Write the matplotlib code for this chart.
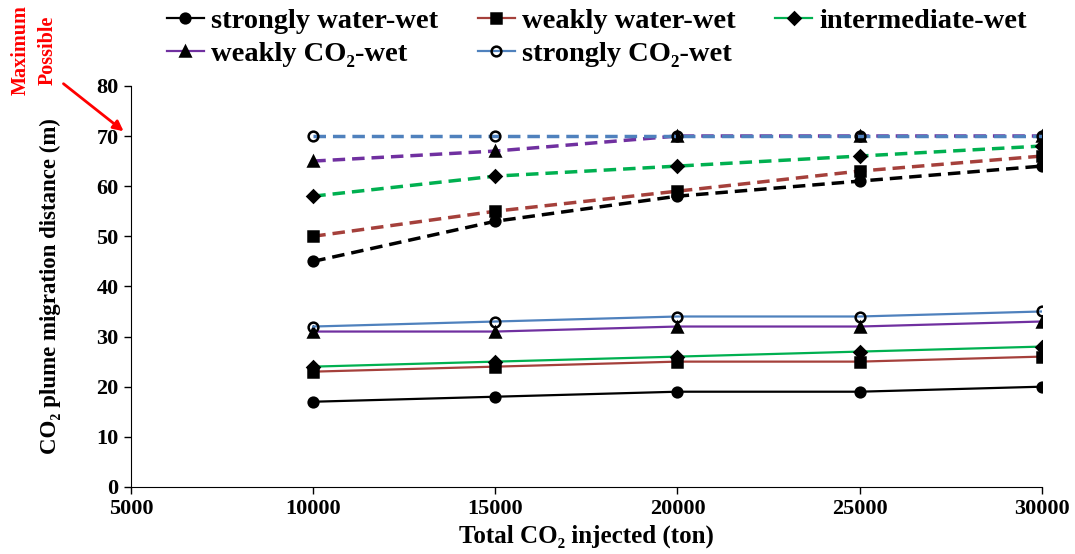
import matplotlib
matplotlib.use("Agg")
import matplotlib.pyplot as plt

plt.rcParams['font.family'] = ['Liberation Serif', 'DejaVu Serif']
plt.rcParams['font.weight'] = 'bold'

# data
injected = [10000, 15000, 20000, 25000, 30000]
names = ['strongly water-wet', 'weakly water-wet', 'intermediate-wet',
         'weakly CO\u2082-wet', 'strongly CO\u2082-wet']
# actual migration distance (solid)
sww = [17, 18, 19, 19, 20]
www = [23, 24, 25, 25, 26]
inter = [24, 25, 26, 27, 28]
wcw = [31, 31, 32, 32, 33]
scw = [32, 33, 34, 34, 35]
# maximum possible (dashed)
sww_max = [45, 53, 58, 61, 64]
www_max = [50, 55, 59, 63, 66]
inter_max = [58, 62, 64, 66, 68]
wcw_max = [65, 67, 70, 70, 70]
scw_max = [70, 70, 70, 70, 70]

colors = ['black', '#A5403B', '#00B050', '#7030A0', '#4F81BD']
markers = ['o', 's', 'D', '^', 'o']
msizes = [7, 6.5, 6, 7.5, 7]

fig = plt.figure(figsize=(10.75, 5.54), dpi=100)
ax = fig.add_axes([0.122, 0.121, 0.847, 0.724])

solid = [sww, www, inter, wcw, scw]
dashed = [sww_max, www_max, inter_max, wcw_max, scw_max]

for i in range(5):
    face = 'none' if i == 4 else 'black'
    ax.plot(injected, dashed[i], color=colors[i], lw=2.5, ls=(0, (3.6, 2.0)),
            marker=markers[i], ms=msizes[i], mfc=face, mec='black', mew=1.8,
            zorder=3)
handles = []
for i in range(5):
    face = 'none' if i == 4 else 'black'
    h, = ax.plot(injected, solid[i], color=colors[i], lw=1.6,
                 marker=markers[i], ms=msizes[i], mfc=face, mec='black', mew=1.8,
                 label=names[i], zorder=3)
    handles.append(h)

ax.set_xlim(5000, 30000)
ax.set_ylim(0, 80)
ax.set_xticks([5000, 10000, 15000, 20000, 25000, 30000])
ax.set_yticks(range(0, 81, 10))
ax.spines['top'].set_visible(False)
ax.spines['right'].set_visible(False)
ax.tick_params(labelsize=16, length=5, width=1, pad=4)
for lbl in ax.get_xticklabels() + ax.get_yticklabels():
    lbl.set_fontweight('bold')

ax.set_xlabel('Total CO\u2082 injected (ton)', fontsize=18, fontweight='bold')
ax.set_ylabel('CO\u2082 plume migration distance (m)', fontsize=16.5, fontweight='bold')
ax.xaxis.set_label_coords(0.5, -0.093)
ax.yaxis.set_label_coords(-0.077, 0.5)

# legend filled row by row
order = [0, 3, 1, 4, 2]
leg = fig.legend([handles[k] for k in order], [names[k] for k in order],
                 loc='upper left', bbox_to_anchor=(0.155, 0.985), ncol=3, frameon=False,
                 prop=dict(size=20.5, weight='bold'), handlelength=1.3, handletextpad=0.25,
                 columnspacing=1.4, labelspacing=0.25, borderpad=0, borderaxespad=0)
for t in leg.get_texts():
    t.set_fontweight('bold')

fig.text(0.032, 0.91, 'Maximum\nPossible', rotation=90, color='red', fontsize=14.5,
         fontweight='bold', ha='center', va='center', linespacing=1.45)
ax.annotate('', xy=(0.117, 0.76), xycoords='figure fraction',
            xytext=(0.057, 0.852), textcoords='figure fraction',
            arrowprops=dict(arrowstyle='-|>', color='red', lw=2, mutation_scale=15))

fig.savefig('out.png', dpi=100)
